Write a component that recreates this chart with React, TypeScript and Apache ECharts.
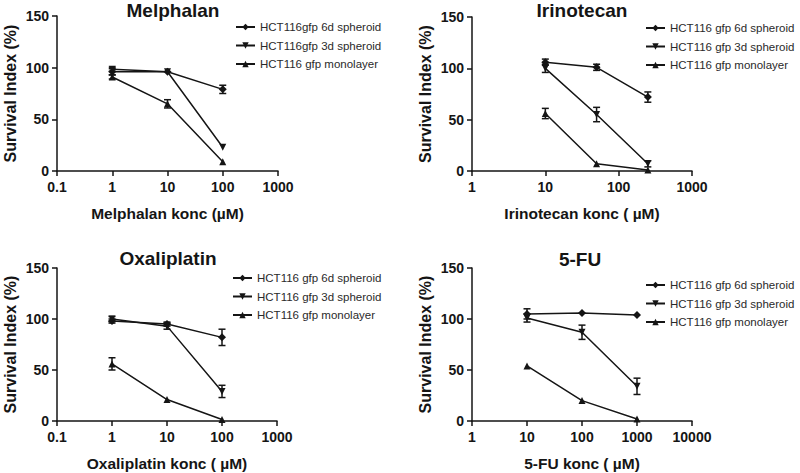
import React, { useEffect, useRef } from "react";
import * as echarts from "echarts";

// ---- Data ----
const melphalanX = [1, 10, 100];
const melphalan6d = [96, 96, 79];
const melphalan6dErr = [3, 1, 4];
const melphalan3d = [98.5, 96, 23];
const melphalan3dErr = [2, 1, 1];
const melphalanMono = [91, 65, 9];
const melphalanMonoErr = [2, 4, 1];

const irinotecanX = [10, 50, 250];
const irinotecan6d = [106, 101, 72];
const irinotecan6dErr = [3, 3, 5];
const irinotecan3d = [100, 55, 7];
const irinotecan3dErr = [4, 7, 3];
const irinotecanMono = [56, 7, 1];
const irinotecanMonoErr = [5, 1, 1];

const oxaliplatinX = [1, 10, 100];
const oxaliplatin6d = [98, 95, 82];
const oxaliplatin6dErr = [2, 2, 8];
const oxaliplatin3d = [100, 93, 29];
const oxaliplatin3dErr = [2.5, 3, 6];
const oxaliplatinMono = [56, 21, 1.5];
const oxaliplatinMonoErr = [6, 1, 1];

const fuX = [10, 100, 1000];
const fu6d = [105, 106, 104];
const fu6dErr = [5, 1, 1];
const fu3d = [101, 87, 34];
const fu3dErr = [4, 7, 8];
const fuMono = [54, 20, 2];
const fuMonoErr = [1, 1, 1];

const legendNamesA = ["HCT116gfp 6d spheroid", "HCT116gfp 3d spheroid", "HCT116 gfp monolayer"];
const legendNamesB = ["HCT116 gfp 6d spheroid", "HCT116 gfp 3d spheroid", "HCT116 gfp monolayer"];

const yTicks = [0, 50, 100, 150];

const FONT = "'Liberation Sans', Arial, Helvetica, sans-serif";
const INK = "#151515";

const SYMBOLS = ["diamond", "path://M0,0L10,0L5,9Z", "triangle"];

type Panel = {
  title: string;
  xName: string;
  xMin: number;
  xMax: number;
  xs: number[];
  names: string[];
  vals: number[][];
  errs: number[][];
  grid: { left: number; top: number; width: number; height: number };
  titleX: number;
  titleY: number;
  legendLeft: number;
  legendTop: number;
};

const panels: Panel[] = [
  {
    title: "Melphalan",
    xName: "Melphalan konc (µM)",
    xMin: 0.1,
    xMax: 1000,
    xs: melphalanX,
    names: legendNamesA,
    vals: [melphalan6d, melphalan3d, melphalanMono],
    errs: [melphalan6dErr, melphalan3dErr, melphalanMonoErr],
    grid: { left: 57, top: 16, width: 221, height: 155 },
    titleX: 173,
    titleY: 1,
    legendLeft: 235,
    legendTop: 21,
  },
  {
    title: "Irinotecan",
    xName: "Irinotecan konc ( µM)",
    xMin: 1,
    xMax: 1000,
    xs: irinotecanX,
    names: legendNamesB,
    vals: [irinotecan6d, irinotecan3d, irinotecanMono],
    errs: [irinotecan6dErr, irinotecan3dErr, irinotecanMonoErr],
    grid: { left: 472, top: 17, width: 220, height: 154 },
    titleX: 582,
    titleY: 1,
    legendLeft: 645,
    legendTop: 22,
  },
  {
    title: "Oxaliplatin",
    xName: "Oxaliplatin konc ( µM)",
    xMin: 0.1,
    xMax: 1000,
    xs: oxaliplatinX,
    names: legendNamesB,
    vals: [oxaliplatin6d, oxaliplatin3d, oxaliplatinMono],
    errs: [oxaliplatin6dErr, oxaliplatin3dErr, oxaliplatinMonoErr],
    grid: { left: 57, top: 268, width: 220, height: 153 },
    titleX: 168,
    titleY: 249,
    legendLeft: 232,
    legendTop: 272,
  },
  {
    title: "5-FU",
    xName: "5-FU konc ( µM)",
    xMin: 1,
    xMax: 10000,
    xs: fuX,
    names: legendNamesB,
    vals: [fu6d, fu3d, fuMono],
    errs: [fu6dErr, fu3dErr, fuMonoErr],
    grid: { left: 472, top: 268, width: 220, height: 153 },
    titleX: 580,
    titleY: 250,
    legendLeft: 645,
    legendTop: 279,
  },
];

function buildOption() {
  const grid: any[] = [];
  const xAxis: any[] = [];
  const yAxis: any[] = [];
  const series: any[] = [];
  const legend: any[] = [];
  const title: any[] = [];

  panels.forEach((p, pi) => {
    grid.push({ ...p.grid, containLabel: false });
    xAxis.push({
      type: "log",
      logBase: 10,
      gridIndex: pi,
      min: p.xMin,
      max: p.xMax,
      name: p.xName,
      nameLocation: "middle",
      nameGap: 34,
      nameTextStyle: { fontFamily: FONT, fontWeight: "bold", fontSize: 15.5, color: INK },
      axisLine: { show: true, lineStyle: { color: INK, width: 1.5 } },
      axisTick: { show: true, length: 5, lineStyle: { color: INK, width: 1.5 } },
      minorTick: { show: false },
      splitLine: { show: false },
      axisLabel: {
        fontFamily: FONT,
        fontWeight: "bold",
        fontSize: 14,
        color: INK,
        margin: 9,
        formatter: (v: number) => String(+v.toPrecision(6)),
      },
    });
    yAxis.push({
      type: "value",
      gridIndex: pi,
      min: yTicks[0],
      max: yTicks[yTicks.length - 1],
      interval: 50,
      name: "Survival Index (%)",
      nameLocation: "middle",
      nameGap: 39,
      nameTextStyle: { fontFamily: FONT, fontWeight: "bold", fontSize: 16, color: INK },
      axisLine: { show: true, lineStyle: { color: INK, width: 1.5 } },
      axisTick: { show: true, length: 5, lineStyle: { color: INK, width: 1.5 } },
      splitLine: { show: false },
      axisLabel: { fontFamily: FONT, fontWeight: "bold", fontSize: 14, color: INK, margin: 8 },
    });
    title.push({
      text: p.title,
      left: p.titleX,
      top: p.titleY,
      textAlign: "center",
      padding: 0,
      textStyle: { fontFamily: FONT, fontWeight: "bold", fontSize: 19, color: INK },
    });
    legend.push({
      data: p.names,
      left: p.legendLeft,
      top: p.legendTop,
      orient: "vertical",
      itemGap: 6.5,
      itemWidth: 19,
      itemHeight: 8,
      padding: 0,
      selectedMode: false,
      textStyle: { fontFamily: FONT, fontSize: 11.5, color: "#2a2a2a", padding: [0, 0, 0, 0] },
    });

    p.vals.forEach((vals, si) => {
      const errs = p.errs[si];
      const errData = p.xs
        .map((x, i) => ({ x, v: vals[i], e: errs[i] }))
        .filter((d) => d.e >= 1.5)
        .map((d) => [d.x, d.v - d.e, d.v + d.e]);
      series.push({
        type: "custom",
        xAxisIndex: pi,
        yAxisIndex: pi,
        silent: true,
        z: 3,
        data: errData,
        renderItem: (params: any, api: any) => {
          const xv = api.value(0);
          const lo = api.coord([xv, api.value(1)]);
          const hi = api.coord([xv, api.value(2)]);
          const c = 3.5;
          const style = { stroke: INK, lineWidth: 1.5 };
          return {
            type: "group",
            children: [
              { type: "line", shape: { x1: lo[0], y1: lo[1], x2: hi[0], y2: hi[1] }, style },
              { type: "line", shape: { x1: lo[0] - c, y1: lo[1], x2: lo[0] + c, y2: lo[1] }, style },
              { type: "line", shape: { x1: hi[0] - c, y1: hi[1], x2: hi[0] + c, y2: hi[1] }, style },
            ],
          };
        },
      });
      series.push({
        type: "line",
        name: p.names[si],
        xAxisIndex: pi,
        yAxisIndex: pi,
        data: p.xs.map((x, i) => [x, vals[i]]),
        symbol: SYMBOLS[si],
        symbolSize: si === 0 ? 8 : 7,
        showSymbol: true,
        z: 4,
        lineStyle: { color: INK, width: 1.5 },
        itemStyle: { color: INK, borderWidth: 0 },
        emphasis: { disabled: true },
      });
    });
  });

  return {
    animation: false,
    backgroundColor: "#ffffff",
    textStyle: { fontFamily: FONT },
    title,
    legend,
    grid,
    xAxis,
    yAxis,
    series,
  };
}

export default function App() {
  const ref = useRef<HTMLDivElement>(null);
  useEffect(() => {
    if (!ref.current) return;
    const chart = echarts.init(ref.current, undefined, { renderer: "svg" });
    chart.setOption(buildOption() as any);
    return () => chart.dispose();
  }, []);
  return (
    <div
      ref={ref}
      style={{ position: "fixed", left: 0, top: 0, width: 800, height: 473, background: "#fff" }}
    />
  );
}
